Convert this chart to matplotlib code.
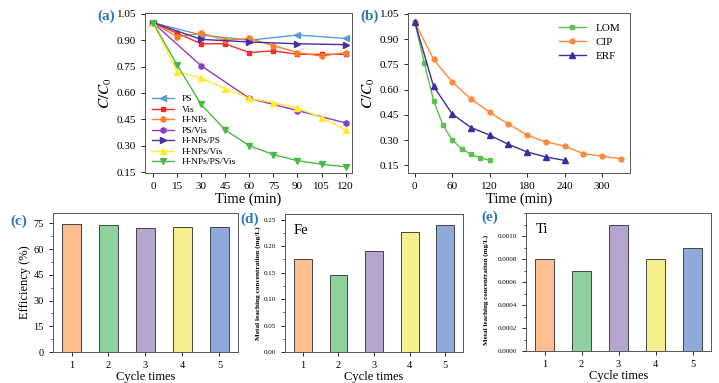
import matplotlib.pyplot as plt
import numpy as np
from matplotlib.ticker import AutoMinorLocator

plt.rcParams['font.family'] = ['Liberation Serif', 'DejaVu Serif']
plt.rcParams['mathtext.fontset'] = 'stix'

# (a) degradation under different systems
t_a = [0, 15, 30, 45, 60, 75, 90, 105, 120]
t_a_sparse = [0, 30, 60, 90, 120]
ps = [1.0, 0.93, 0.90, 0.93, 0.91]
vis = [1.0, 0.94, 0.88, 0.88, 0.83, 0.84, 0.82, 0.82, 0.82]
h_nps = [1.0, 0.92, 0.94, 0.90, 0.91, 0.87, 0.83, 0.81, 0.83]
ps_vis = [1.0, 0.755, 0.57, 0.50, 0.43]
h_nps_ps = [1.0, 0.905, 0.89, 0.88, 0.875]
h_nps_vis = [1.0, 0.72, 0.685, 0.625, 0.57, 0.545, 0.515, 0.46, 0.39]
h_nps_ps_vis = [1.0, 0.76, 0.535, 0.39, 0.30, 0.25, 0.215, 0.195, 0.18]

# (b) different pollutants
t_lom = [0, 15, 30, 45, 60, 75, 90, 105, 120]
lom = [1.0, 0.76, 0.535, 0.39, 0.30, 0.25, 0.215, 0.195, 0.18]
t_cip = [0, 30, 60, 90, 120, 150, 180, 210, 240, 270, 300, 330]
cip = [1.0, 0.78, 0.645, 0.545, 0.465, 0.395, 0.33, 0.29, 0.265, 0.22, 0.205, 0.19]
t_erf = [0, 30, 60, 90, 120, 150, 180, 210, 240]
erf = [1.0, 0.62, 0.455, 0.375, 0.33, 0.275, 0.23, 0.20, 0.18]

# (c)-(e) cycling
cycles = [1, 2, 3, 4, 5]
efficiency = [74.5, 74.0, 72.5, 73.0, 73.0]
fe = [0.176, 0.145, 0.191, 0.227, 0.241]
ti = [0.0008, 0.0007, 0.0011, 0.0008, 0.0009]
bar_colors = ['#FDBF8F', '#8FD19E', '#B3A5CF', '#F6F08F', '#8EAADB']

W, H = 719, 383
fig = plt.figure(figsize=(W / 100, H / 100), dpi=100)


def box(l, t, r, b):
    return [l / W, 1 - b / H, (r - l) / W, (b - t) / H]


def style(ax, size=8):
    ax.tick_params(direction='out', labelsize=size, length=3, width=0.6)
    ax.tick_params(which='minor', direction='out', length=1.5, width=0.5)
    for s in ax.spines.values():
        s.set_linewidth(0.7)
        s.set_color('#555555')


lab_kw = dict(color='#2E75B6', fontweight='bold', fontsize=11)

# panel (a)
ax = fig.add_axes(box(145, 13, 352, 173))
ax.plot(t_a_sparse, ps, '-<', color='#5B9BD5', ms=4, lw=1, label='PS')
ax.plot(t_a, vis, '-s', color='#F02C2C', ms=3.5, lw=1, label='Vis')
ax.plot(t_a, h_nps, '-h', color='#FF7F27', ms=4, lw=1, label='H-NPs')
ax.plot(t_a_sparse, ps_vis, '-h', color='#8B3FBF', ms=4, lw=1, label='PS/Vis')
ax.plot(t_a_sparse, h_nps_ps, '->', color='#4A2D9E', ms=4, lw=1, label='H-NPs/PS')
ax.plot(t_a, h_nps_vis, '-^', color='#FFEA2E', ms=4, lw=1, label='H-NPs/Vis')
ax.plot(t_a, h_nps_ps_vis, '-v', color='#4CB848', ms=4, lw=1, label='H-NPs/PS/Vis')
ax.set_xlim(-5, 124)
ax.set_ylim(0.145, 1.055)
ax.set_xticks(range(0, 121, 15))
ax.set_yticks([0.15, 0.30, 0.45, 0.60, 0.75, 0.90, 1.05])
ax.yaxis.set_major_formatter(plt.FormatStrFormatter('%.2f'))
ax.set_xlabel('Time (min)', fontsize=10.5, labelpad=1)
ax.set_ylabel('$C/C_0$', fontsize=11, labelpad=2)
ax.legend(loc='lower left', frameon=False, fontsize=6.8, handlelength=2.4,
          labelspacing=0.2, borderaxespad=0.3)
style(ax)
fig.text(97 / W, 1 - 16 / H, '(a)', ha='left', va='center', **lab_kw)

# panel (b)
ax = fig.add_axes(box(408, 13, 630, 173))
ax.plot(t_lom, lom, '-s', color='#5CBF4E', ms=3.5, lw=1, label='LOM')
ax.plot(t_cip, cip, '-o', color='#FF8A3A', ms=3.5, lw=1, label='CIP')
ax.plot(t_erf, erf, '-^', color='#3A2E9E', ms=4, lw=1, label='ERF')
ax.set_xlim(-11, 345)
ax.set_ylim(0.105, 1.055)
ax.set_xticks(range(0, 301, 60))
ax.set_yticks([0.15, 0.30, 0.45, 0.60, 0.75, 0.90, 1.05])
ax.yaxis.set_major_formatter(plt.FormatStrFormatter('%.2f'))
ax.set_xlabel('Time (min)', fontsize=10.5, labelpad=1)
ax.set_ylabel('$C/C_0$', fontsize=11, labelpad=2)
ax.legend(loc='upper right', frameon=False, fontsize=8, handlelength=2.5,
          labelspacing=0.4)
style(ax)
fig.text(360 / W, 1 - 16 / H, '(b)', ha='left', va='center', **lab_kw)

# panel (c)
ax = fig.add_axes(box(53, 213, 238, 352))
ax.bar(cycles, efficiency, width=0.5, color=bar_colors, edgecolor='#444444', lw=0.7)
ax.set_ylim(0, 81)
ax.set_xlim(0.5, 5.5)
ax.set_yticks(range(0, 76, 15))
ax.set_xticks(cycles)
ax.yaxis.set_minor_locator(AutoMinorLocator(2))
ax.set_xlabel('Cycle times', fontsize=9, labelpad=1)
ax.set_ylabel('Efficiency (%)', fontsize=9, labelpad=2)
style(ax, 7.5)
fig.text(10 / W, 1 - 221 / H, '(c)', ha='left', va='center', **lab_kw)

# panel (d)
ax = fig.add_axes(box(285, 214, 463, 352))
ax.bar(cycles, fe, width=0.5, color=bar_colors, edgecolor='#444444', lw=0.7)
ax.set_ylim(0, 0.261)
ax.set_xlim(0.5, 5.5)
ax.set_yticks(np.arange(0, 0.26, 0.05))
ax.yaxis.set_major_formatter(plt.FormatStrFormatter('%.2f'))
ax.set_xticks(cycles)
ax.yaxis.set_minor_locator(AutoMinorLocator(2))
ax.set_xlabel('Cycle times', fontsize=9, labelpad=1)
ax.set_ylabel('Metal leaching concentration (mg/L)', fontsize=5.2, fontweight='bold', labelpad=2)
ax.text(0.05, 0.93, 'Fe', transform=ax.transAxes, fontsize=10.5, va='top')
style(ax, 7.5)
ax.tick_params(axis='y', labelsize=5)
fig.text(240 / W, 1 - 219 / H, '(d)', ha='left', va='center', **lab_kw)

# panel (e)
ax = fig.add_axes(box(526, 213, 711, 351))
ax.bar(cycles, ti, width=0.5, color=bar_colors, edgecolor='#444444', lw=0.7)
ax.set_ylim(0, 0.0012)
ax.set_xlim(0.5, 5.5)
ax.set_yticks(np.arange(0, 0.00101, 0.0002))
ax.yaxis.set_major_formatter(plt.FormatStrFormatter('%.4f'))
ax.set_xticks(cycles)
ax.yaxis.set_minor_locator(AutoMinorLocator(2))
ax.set_xlabel('Cycle times', fontsize=9, labelpad=1)
ax.set_ylabel('Metal leaching concentration (mg/L)', fontsize=5.0, fontweight='bold', labelpad=2)
ax.yaxis.set_label_coords(-0.2, 0.44)
ax.text(0.05, 0.93, 'Ti', transform=ax.transAxes, fontsize=10.5, va='top')
style(ax, 7.5)
ax.tick_params(axis='y', labelsize=5)
fig.text(481 / W, 1 - 217 / H, '(e)', ha='left', va='center', **lab_kw)

fig.savefig('out.png', dpi=100)
